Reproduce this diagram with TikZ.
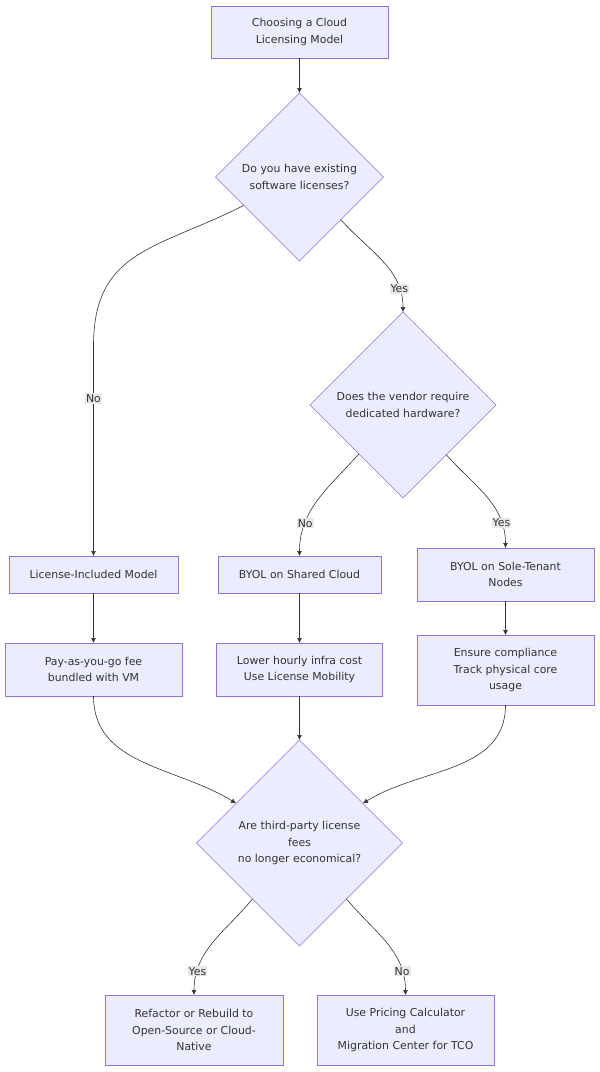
\documentclass[tikz,border=0pt]{standalone}
\usepackage{fontspec}
\setmainfont{DejaVu Sans}
\usepackage{tikz}
\usetikzlibrary{
  arrows.meta,
  calc,
  positioning,
  shapes.geometric,
}
\definecolor{mermaidfill}{RGB}{236, 236, 255}
\definecolor{mermaidline}{RGB}{147, 112, 219}
\definecolor{edgegray}{RGB}{51, 51, 51}
\definecolor{labelgray}{RGB}{232, 232, 232}
\tikzstyle{box} = [
  draw=mermaidline,
  fill=mermaidfill,
  rectangle,
  line width=0.6pt,
  align=center,
  inner sep=0pt,
  outer sep=0pt,
  text=edgegray,
]
\tikzstyle{decision} = [
  draw=mermaidline,
  fill=mermaidfill,
  diamond,
  aspect=1,
  line width=0.6pt,
  align=center,
  inner sep=0pt,
  outer sep=0pt,
  text=edgegray,
]
\tikzstyle{arrow} = [
  -{Latex[length=5pt,width=5pt]},
  line width=0.6pt,
  edgegray,
]
\tikzstyle{lbl} = [
  fill=labelgray,
  inner sep=1pt,
  text=edgegray,
]

\begin{document}
\begin{tikzpicture}[x=1pt, y=1pt, font=\fontsize{10.9}{16.5}\selectfont]
        \useasboundingbox (0,0) rectangle (600,-1072);

        \node[box,minimum width=177pt,minimum height=52pt]    (start) at (299.5,-32)    {Choosing a Cloud\\Licensing Model};
        \node[decision,minimum width=168pt,minimum height=168pt]    (q1) [below=35pt of start]    {Do you have existing\\software licenses?};
        \node[decision,minimum width=186pt,minimum height=186pt]    (q2) at (403,-405)    {Does the vendor require\\dedicated hardware?};

        \node[box,minimum width=169pt,minimum height=37pt]    (lic) at (93.5,-574.5)    {License-Included Model};
        \node[box,minimum width=163pt,minimum height=37pt]    (shared) at (299.5,-574.5)    {BYOL on Shared Cloud};
        \node[box,minimum width=177pt,minimum height=53pt]    (sole) at (505.5,-574.5)    {BYOL on Sole-Tenant\\Nodes};

        \node[box,minimum width=177pt,minimum height=53pt]    (payg) [below=50pt of lic]    {Pay-as-you-go fee\\bundled with VM};
        \node[box,minimum width=166pt,minimum height=53pt]    (lower) [below=50pt of shared]    {Lower hourly infra cost\\Use License Mobility};
        \node[box,minimum width=177pt,minimum height=70pt]    (ensure) [below=34pt of sole]    {Ensure compliance\\Track physical core\\usage};

        \node[decision,minimum width=206pt,minimum height=206pt]    (q3) [below=44pt of lower]    {Are third-party license\\fees\\no longer economical?};

        \node[box,minimum width=178pt,minimum height=70pt]    (refactor) at (194,-1030)    {Refactor or Rebuild to\\Open-Source or Cloud-\\Native};
        \node[box,minimum width=177pt,minimum height=70pt]    (pricing) at (405.5,-1030)    {Use Pricing Calculator\\and\\Migration Center for TCO};

        \draw[arrow] (start) -- (q1);
        \draw[arrow] (q1.207) to[out=207,in=90,looseness=1.2] ($(lic.north)+(0,210)$) -- node[lbl,pos=0.25] {No} (lic.north);
        \draw[arrow] (q1.314) to[out=-48,in=90] node[lbl,pos=0.8] {Yes} (q2.north);
        \draw[arrow] (q2.228) to[out=228,in=90] node[lbl,pos=0.73] {No} (shared.north);
        \draw[arrow] (q2.311) to[out=-48,in=90] node[lbl,pos=0.78] {Yes} (sole.north);
        \draw[arrow] (lic) -- (payg);
        \draw[arrow] (shared) -- (lower);
        \draw[arrow] (sole) -- (ensure);
        \draw[arrow] (payg.south) to[out=-90,in=148] (q3.148);
        \draw[arrow] (lower) -- (q3);
        \draw[arrow] (ensure.south) to[out=-90,in=32] (q3.32);
        \draw[arrow] (q3.230) to[out=230,in=90] node[lbl,pos=0.8] {Yes} (refactor.north);
        \draw[arrow] (q3.310) to[out=-50,in=90] node[lbl,pos=0.8] {No} (pricing.north);
    \end{tikzpicture}
\end{document}
